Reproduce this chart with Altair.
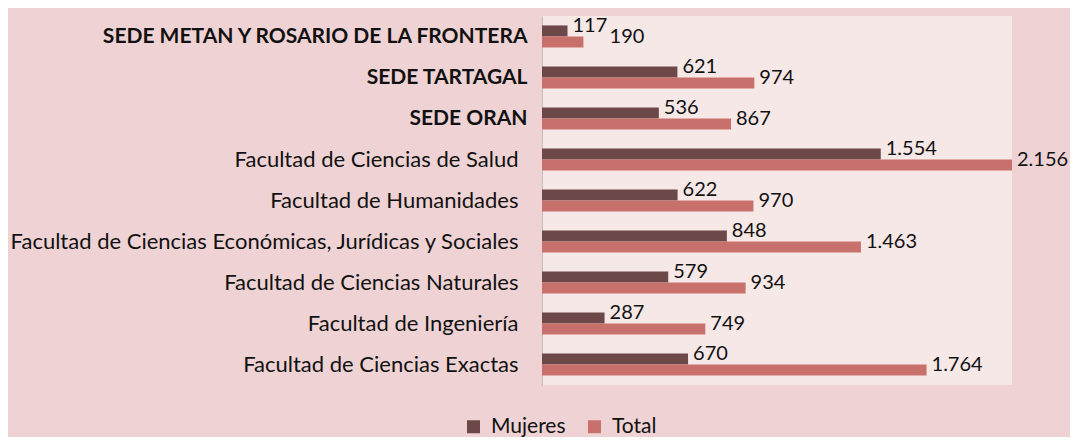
import altair as alt
import pandas as pd

categories = [
    "SEDE METAN Y ROSARIO DE LA FRONTERA",
    "SEDE TARTAGAL",
    "SEDE ORAN",
    "Facultad de Ciencias de Salud",
    "Facultad de Humanidades",
    "Facultad de Ciencias Económicas, Jurídicas y Sociales",
    "Facultad de Ciencias Naturales",
    "Facultad de Ingeniería",
    "Facultad de Ciencias Exactas",
]
mujeres = [117, 621, 536, 1554, 622, 848, 579, 287, 670]
total = [190, 974, 867, 2156, 970, 1463, 934, 749, 1764]
series = ["Mujeres", "Total"]
colors = ["#6d4848", "#c8706b"]

rows = []
for c, m, t in zip(categories, mujeres, total):
    rows.append({"cat": c, "serie": "Mujeres", "v": m})
    rows.append({"cat": c, "serie": "Total", "v": t})
df = pd.DataFrame(rows)

FONT = "Lato"
IS_SEDE = "indexof(datum.label, 'SEDE') == 0"

base = alt.Chart(df)

y = alt.Y(
    "cat:N",
    sort=categories,
    title=None,
    scale=alt.Scale(paddingInner=0.46, paddingOuter=0.23),
    axis=alt.Axis(
        ticks=False,
        domain=True,
        domainColor="#bfbfbf",
        domainWidth=1,
        labelFont=FONT,
        labelFontSize={"condition": {"test": IS_SEDE, "value": 21}, "value": 22},
        labelColor="#111111",
        labelPadding={"condition": {"test": IS_SEDE, "value": 15}, "value": 24},
        labelLimit=0,
        labelFontWeight={"condition": {"test": IS_SEDE, "value": "bold"}, "value": "normal"},
    ),
)
xscale = alt.Scale(domain=[0, 2156], nice=False)
x = alt.X("v:Q", title=None, axis=None, scale=xscale)
yoff = alt.YOffset("serie:N", sort=series, scale=alt.Scale(paddingInner=0, paddingOuter=0))

bars = base.mark_bar().encode(
    y=y,
    x=x,
    yOffset=yoff,
    color=alt.Color(
        "serie:N",
        sort=series,
        scale=alt.Scale(domain=series, range=colors),
        legend=alt.Legend(
            title=None,
            orient="none",
            direction="horizontal",
            legendX=-79,
            legendY=400,
            symbolType="square",
            symbolSize=169,
            symbolStrokeWidth=0,
            labelFont=FONT,
            labelFontSize=21,
            labelColor="#111111",
            columnPadding=18,
            labelOffset=7,
        ),
    ),
)

text = (
    base.transform_calculate(
        lbl="replace(format(datum.v, ','), ',', '.')",
        mv="datum.serie == 'Mujeres' ? datum.v : 0",
    )
    .transform_joinaggregate(mmax="max(mv)", groupby=["cat"])
    .transform_calculate(
        lx="datum.serie == 'Total' ? max(datum.v, datum.mmax + 170) : datum.v"
    )
    .mark_text(
        align="left", baseline="middle", dx=5, dy=-5, font=FONT, fontSize=20, color="#111111"
    )
    .encode(
        y=y,
        x=alt.X("lx:Q", title=None, axis=None, scale=xscale),
        yOffset=yoff,
        text="lbl:N",
    )
)

chart = (
    (bars + text)
    .properties(
        width=470,
        height=369,
        autosize=alt.AutoSizeParams(type="none"),
        padding={"left": 534, "top": 8, "right": 58, "bottom": 52},
        background="#efd3d4",
    )
    .configure_view(stroke=None, fill="#f6e8e7")
)

chart.save("out.html", embed_options={"renderer": "svg", "actions": False})
